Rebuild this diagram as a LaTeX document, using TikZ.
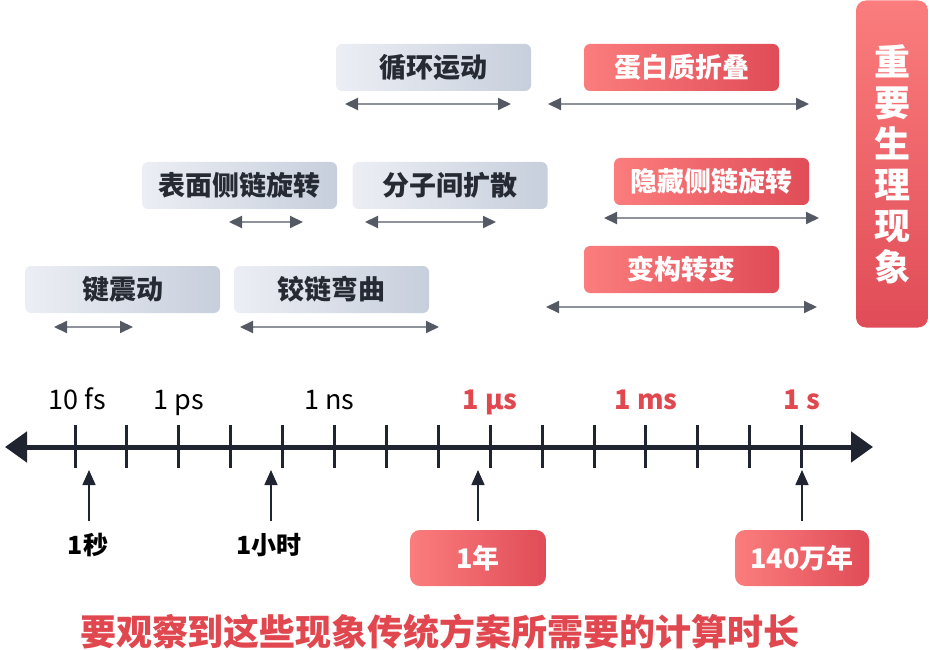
\documentclass[tikz,border=0pt]{standalone}
\usepackage{fontspec}
\setmainfont{Noto Sans CJK SC}
\usepackage{tikz}
\usetikzlibrary{arrows.meta, positioning, shapes.misc}
\definecolor{greyl}{HTML}{ECEEF4}
\definecolor{greyr}{HTML}{C7CFDC}
\definecolor{redl}{HTML}{FB7D7D}
\definecolor{redr}{HTML}{E04C57}
\definecolor{redtext}{HTML}{E0474F}
\definecolor{darktext}{HTML}{262A33}
\definecolor{rangeline}{HTML}{8E929B}
\definecolor{rangehead}{HTML}{545963}
\definecolor{axisdark}{HTML}{1F2430}
\tikzstyle{greybox} = [rectangle, rounded corners=6pt, minimum width=195pt, minimum height=47pt, text centered, left color=greyl, right color=greyr, text=darktext, font=\fontsize{27}{30}\selectfont\bfseries]
\tikzstyle{redbox} = [rectangle, rounded corners=6pt, minimum width=195pt, minimum height=47pt, text centered, left color=redl, right color=redr, text=white, font=\fontsize{27}{30}\selectfont\bfseries]
\tikzstyle{spanarrow} = [line width=2pt, draw=rangeline, {Triangle[length=13pt,width=12pt,color=rangehead]}-{Triangle[length=13pt,width=12pt,color=rangehead]}]
\tikzstyle{timeaxis} = [line width=5pt, draw=axisdark, {Triangle[length=22pt,width=30pt]}-{Triangle[length=22pt,width=30pt]}]
\tikzstyle{tickmark} = [line width=3pt, draw=axisdark]
\tikzstyle{uparrow} = [line width=1.6pt, draw=axisdark, -{Triangle[length=15pt,width=13pt]}]
\tikzstyle{scalelabel} = [anchor=base, text=black, font=\fontsize{27}{30}\selectfont]
\tikzstyle{redscale} = [anchor=base, text=redtext, font=\fontsize{27}{30}\selectfont\bfseries]
\tikzstyle{timelabel} = [text=black, font=\fontsize{25}{28}\selectfont\bfseries]
\tikzstyle{costbox} = [redbox, rounded corners=10pt, minimum height=56pt, font=\fontsize{27}{28}\selectfont\bfseries]
\def\tk{51.9}

\begin{document}
\begin{tikzpicture}[x=1pt, y=-1pt]
\useasboundingbox (0,0) rectangle (930,650);

% motions
\node (loop) [greybox] at (433.5,67.5) {循环运动};
\coordinate (loopa) at (345,104);
\coordinate (loopb) at (511,104);
\draw [spanarrow] (loopa) -- (loopb);

\node (surf) [greybox] at (239.5,185.5) {表面侧链旋转};
\coordinate (surfa) at (229,222);
\coordinate (surfb) at (303,222);
\draw [spanarrow] (surfa) -- (surfb);

\node (diff) [greybox] at (450,185.5) {分子间扩散};
\coordinate (diffa) at (365,222);
\coordinate (diffb) at (496,222);
\draw [spanarrow] (diffa) -- (diffb);

\node (bond) [greybox] at (122.5,289.5) {键震动};
\coordinate (bonda) at (54,327);
\coordinate (bondb) at (133,327);
\draw [spanarrow] (bonda) -- (bondb);

\node (hinge) [greybox] at (331.5,289.5) {铰链弯曲};
\coordinate (hingea) at (240,327);
\coordinate (hingeb) at (439,327);
\draw [spanarrow] (hingea) -- (hingeb);

% important ones
\node (fold) [redbox] at (681.5,67.5) {蛋白质折叠};
\coordinate (folda) at (548,104);
\coordinate (foldb) at (809,104);
\draw [spanarrow] (folda) -- (foldb);

\node (hidden) [redbox] at (711.5,181.5) {隐藏侧链旋转};
\coordinate (hiddena) at (604,218);
\coordinate (hiddenb) at (819,218);
\draw [spanarrow] (hiddena) -- (hiddenb);

\node (allo) [redbox] at (681.5,269.5) {变构转变};
\coordinate (alloa) at (546,307);
\coordinate (allob) at (817,307);
\draw [spanarrow] (alloa) -- (allob);

\node (phys) [redbox, top color=redl, bottom color=redr, rounded corners=10pt, minimum width=72pt, minimum height=327pt, align=center, font=\fontsize{36}{41}\selectfont\bfseries] at (892,164) {重\\要\\生\\理\\现\\象};

% time axis
\coordinate (axl) at (5,447);
\coordinate (axr) at (873,447);
\draw [timeaxis] (axl) -- (axr);
\foreach \i in {0,...,14}
  \draw [tickmark] ({75+\tk*\i},425) -- ({75+\tk*\i},468);

\node (fs) [scalelabel] at (77,409) {10 fs};
\node (ps) [scalelabel] at ({75+2*\tk},409) {1 ps};
\node (ns) [scalelabel] at ({75+5*\tk-5},409) {1 ns};
\node (us) [redscale] at ({75+8*\tk},409) {1 µs};
\node (ms) [redscale] at ({75+11*\tk},409) {1 ms};
\node (s) [redscale] at ({75+14*\tk},409) {1 s};

% compute times
\node (sec) [timelabel] at (88,545) {1秒};
\coordinate (seca) at (89,521);
\coordinate (secb) at (89,470);
\draw [uparrow] (seca) -- (secb);

\node (hour) [timelabel] at (269,545) {1小时};
\coordinate (houra) at (271,521);
\coordinate (hourb) at (271,470);
\draw [uparrow] (houra) -- (hourb);

\node (year) [costbox, minimum width=136pt] at (478,558) {1年};
\coordinate (yeara) at (478,521);
\coordinate (yearb) at (478,470);
\draw [uparrow] (yeara) -- (yearb);

\node (myear) [costbox, minimum width=134pt] at (802,558) {140万年};
\coordinate (myeara) at (802,521);
\coordinate (myearb) at (802,470);
\draw [uparrow] (myeara) -- (myearb);

\node (title) [text=redtext, font=\fontsize{36}{40}\selectfont\bfseries] at (440,632) {要观察到这些现象传统方案所需要的计算时长};

\end{tikzpicture}
\end{document}
